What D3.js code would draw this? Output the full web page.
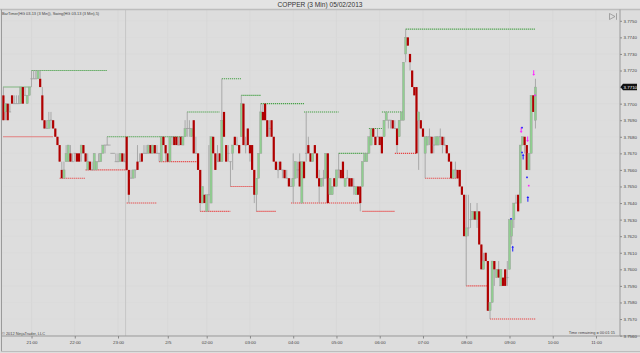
<!DOCTYPE html>
<html>
<head>
<meta charset="utf-8" />
<title>COPPER (3 Min) 05/02/2013</title>
<script src="https://cdnjs.cloudflare.com/ajax/libs/d3/7.8.5/d3.min.js"></script>
<style>
  body { margin: 0; background: #dddddd; }
  svg { display: block; font-family: Arial, "Liberation Sans", sans-serif; }
</style>
</head>
<body>
<svg id="chart" width="640" height="353"></svg>
<script>
// prices are stored in ticks of 0.0005 above 3.7560
const BASE = 3.7560, TICK = 0.0005
const toPrice = t => BASE + t * TICK

const openT = [
  29,27,28,27,29,28,28,28,28,30, 29,28,29,31,31,31,31,31,29,26,
  25,25,26,26,25,24,23,20,19,21, 21,22,21,22,22,22,22,23,22,20,
  21,20,20,20,21,21,22,23,23,23, 22,22,21,21,21,22,21,24,20,19,
  19,20,21,21,22,22,22,22,23,22, 23,22,22,21,24,23,22,21,24,24,
  24,23,24,23,24,25,25,24,26,22, 22,20,16,17,15,17,16,24,22,21,
  22,21,27,23,22,21,22,24,23,23, 24,28,23,25,23,23,20,17,19,22,
  27,28,26,25,26,24,21,20,21,20, 20,19,19,18,18,19,20,21,16,21,
  22,23,22,21,23,22,19,18,19,19, 22,17,17,19,18,20,20,21,18,19,
  19,19,18,17,18,18,18,21,21,22, 23,25,24,24,24,24,24,26,26,26,
  26,25,25,24,26,26,34,36,34,32, 30,30,26,26,25,22,23,24,24,23,
  23,23,24,24,23,23,22,21,19,20, 20,20,18,17,12,13,14,14,15,14,
  15,11,8,10,9,3,4,9,7,8, 6,7,8,7,8,12,14,16,17,16,
  23,24,23,20,22,29,26
]
const highT = [
  30,28,28,28,29,29,29,29,30,30, 30,29,30,32,32,32,32,32,30,26,
  26,27,27,26,25,24,23,21,21,23, 23,23,22,22,22,22,23,23,22,22,
  21,21,22,21,22,22,23,23,24,23, 22,22,22,22,22,22,22,24,20,20,
  20,20,23,22,22,23,23,23,23,23, 23,23,22,24,24,23,22,24,24,24,
  24,24,24,24,26,27,26,25,26,24, 22,20,18,17,17,23,24,24,22,23,
  22,31,27,23,23,21,23,24,24,23, 29,28,24,25,23,23,20,19,22,28,
  28,28,26,26,26,24,21,21,21,20, 20,20,19,19,22,21,21,22,21,21,
  27,24,22,22,23,22,20,19,20,22, 22,19,18,19,20,22,20,21,19,20,
  19,19,19,18,18,18,21,22,22,24, 25,25,24,25,24,24,26,27,26,26,
  26,26,25,26,27,33,37,36,34,32, 30,30,27,26,25,24,24,25,24,24,
  24,24,25,24,24,23,22,21,20,21, 20,20,18,17,17,17,16,15,15,16,
  15,11,10,10,9,4,9,9,8,9, 8,7,8,9,14,14,16,17,17,23,
  24,24,23,22,29,29,31
]
const lowT = [
  26,26,26,27,28,28,28,28,28,28, 29,28,29,30,31,31,31,30,26,25,
  25,25,25,25,24,23,21,19,19,21, 21,21,21,21,21,21,21,22,21,20,
  20,20,20,20,21,21,22,22,23,23, 22,22,21,21,21,21,21,20,16,19,
  19,19,20,21,21,22,22,22,22,22, 22,22,21,21,23,21,21,21,23,23,
  23,23,23,23,24,24,24,24,22,22, 20,15,16,16,15,15,16,22,20,21,
  21,21,24,21,21,18,20,23,23,22, 24,23,22,23,21,20,16,15,19,22,
  26,26,24,24,24,21,20,19,20,19, 19,19,18,18,16,19,19,18,16,19,
  21,22,21,21,22,19,16,18,18,19, 16,17,17,18,18,19,19,19,18,19,
  18,18,17,17,17,15,18,21,21,22, 23,24,23,24,23,22,24,26,25,25,
  25,25,22,24,26,26,33,35,32,30, 29,22,20,25,24,19,23,23,22,22,
  23,23,23,22,23,22,21,19,19,19, 19,18,17,12,6,12,13,14,14,13,
  11,8,8,9,3,2,4,6,7,7, 6,6,6,6,8,11,13,16,15,16,
  23,22,20,20,22,27,25
]
const closeT = [
  26,28,26,27,28,28,28,28,30,28, 29,29,30,31,31,31,32,30,26,25,
  25,26,26,25,24,23,21,19,20,22, 23,21,21,22,21,21,23,22,21,21,
  20,20,22,21,21,22,23,23,23,23, 22,22,21,21,22,21,21,20,17,19,
  20,20,20,21,21,22,22,23,22,23, 22,22,22,24,23,22,21,24,24,23,
  23,23,23,24,25,25,25,25,22,22, 20,16,18,16,17,17,24,22,20,21,
  21,26,24,21,22,21,23,23,23,22, 28,23,23,23,22,20,17,19,22,27,
  26,26,24,25,24,21,20,20,20,20, 19,19,18,18,19,21,20,18,21,19,
  22,22,21,22,22,19,18,19,19,22, 16,19,18,18,20,20,19,19,19,19,
  18,18,18,18,17,16,21,22,22,24, 25,24,23,24,23,22,26,27,26,26,
  25,25,23,26,27,33,36,35,33,30, 29,22,27,25,24,24,24,24,22,23,
  24,24,24,23,23,22,21,19,20,20, 19,18,17,12,13,13,14,15,14,15,
  11,8,9,9,3,4,9,8,8,7, 8,6,6,7,14,14,16,16,15,23,
  24,23,20,22,29,27,30
]

// swing lines: price, first bar, last bar
const swingHighPrice = [3.7710, 3.7720, 3.7680, 3.7695, 3.7715, 3.7705, 3.7700, 3.7695, 3.7670, 3.7685, 3.7695, 3.7745]
const swingHighFrom  = [0, 13, 48, 85, 101, 110, 119, 139, 155, 169, 175, 186]
const swingHighTo    = [13, 48, 83, 100, 110, 119, 139, 155, 169, 175, 185, 246]
const swingLowPrice  = [3.7680, 3.7655, 3.7660, 3.7640, 3.7665, 3.7635, 3.7650, 3.7635, 3.7640, 3.7635, 3.7670, 3.7655, 3.7590, 3.7570]
const swingLowFrom   = [0, 26, 38, 57, 72, 91, 105, 117, 133, 166, 181, 195, 214, 225]
const swingLowTo     = [23, 38, 57, 71, 90, 105, 116, 126, 165, 181, 191, 211, 224, 246]

// signal arrows and dots near the end
const upArrowBar = [235.5, 240.3, 242.5]
const upArrowPrice = [3.76125, 3.7668, 3.76425]
const downArrowBar = [239.4, 242.4, 245.2]
const downArrowPrice = [3.7684, 3.76785, 3.77185]
const blueDotBar = [234.7, 239.8, 239.8, 242.1]
const blueDotPrice = [3.76305, 3.76855, 3.76705, 3.76555]
const pinkDotBar = [242.9, 245.8]
const pinkDotPrice = [3.76505, 3.7705]

const timeLabels = ['21:00', '22:00', '23:00', '2/5', '02:00', '03:00', '04:00', '05:00', '06:00', '07:00', '08:00', '09:00', '10:00', '11:00']
const timeBars = [13, 33, 53, 76, 94, 114, 134, 154, 174, 194, 214, 234, 254, 274]
const sessionBreakBar = 56.5
const priceTicks = d3.range(3.7560, 3.77505, 0.001)

const svg = d3.select('#chart')
const plotL = 1.5, plotR = 620, plotT = 9.5, plotB = 336

const x = d3.scaleLinear().domain([0, 274]).range([3.4, 596])
const y = d3.scaleLinear().domain([3.7560, 3.7750]).range([335.6, 20.8])

// title strip
svg.append('rect').attr('x', 0).attr('y', 0).attr('width', 640).attr('height', plotT).attr('fill', '#e3e3e3')
svg.append('text').attr('x', 320).attr('y', 7).attr('text-anchor', 'middle')
  .attr('font-size', 6.6).attr('fill', '#333').text('COPPER (3 Min)  05/02/2013')

const clip = svg.append('clipPath').attr('id', 'plot')
clip.append('rect').attr('x', plotL).attr('y', plotT).attr('width', plotR - plotL).attr('height', plotB - plotT)
const plot = svg.append('g').attr('clip-path', 'url(#plot)')

// faint grid
plot.selectAll('.vg').data(timeBars).enter().append('line')
  .attr('x1', d => x(d)).attr('x2', d => x(d)).attr('y1', plotT).attr('y2', plotB)
  .attr('stroke', '#d5d5d5').attr('stroke-width', 0.7)
plot.selectAll('.hg').data(priceTicks).enter().append('line')
  .attr('x1', plotL).attr('x2', plotR).attr('y1', d => y(d)).attr('y2', d => y(d))
  .attr('stroke', '#d8d8d8').attr('stroke-width', 0.5)
plot.append('line').attr('x1', x(sessionBreakBar)).attr('x2', x(sessionBreakBar))
  .attr('y1', plotT).attr('y2', plotB).attr('stroke', '#c6c6c6').attr('stroke-width', 1)

// swing lines
const highs = swingHighPrice.map((p, i) => ({ p, a: swingHighFrom[i], b: swingHighTo[i] }))
const lows = swingLowPrice.map((p, i) => ({ p, a: swingLowFrom[i], b: swingLowTo[i] }))
plot.selectAll('.sh').data(highs).enter().append('line')
  .attr('x1', d => x(d.a)).attr('x2', d => x(d.b)).attr('y1', d => y(d.p)).attr('y2', d => y(d.p))
  .attr('stroke', '#45a045').attr('stroke-width', 1.1).attr('stroke-dasharray', '1.2,0.8')
plot.selectAll('.sl').data(lows).enter().append('line')
  .attr('x1', d => x(d.a)).attr('x2', d => x(d.b)).attr('y1', d => y(d.p)).attr('y2', d => y(d.p))
  .attr('stroke', '#e84444').attr('stroke-width', 1.1).attr('stroke-dasharray', '1.2,0.8')

// candles
const bars = openT.map((o, i) => ({
  i, o: toPrice(o), h: toPrice(highT[i]), l: toPrice(lowT[i]), c: toPrice(closeT[i])
}))
const candle = plot.selectAll('.bar').data(bars).enter().append('g')
candle.append('line')
  .attr('x1', d => x(d.i)).attr('x2', d => x(d.i))
  .attr('y1', d => y(d.h)).attr('y2', d => y(d.l))
  .attr('stroke', '#9c9c9c').attr('stroke-width', 0.8)
candle.filter(d => d.o !== d.c).append('rect')
  .attr('x', d => x(d.i) - 1.1).attr('width', 2.2)
  .attr('y', d => y(Math.max(d.o, d.c)))
  .attr('height', d => Math.abs(y(d.o) - y(d.c)))
  .attr('fill', d => d.c > d.o ? '#90cf90' : '#b00000')
  .attr('stroke', d => d.c > d.o ? '#9a9a9a' : 'none').attr('stroke-width', 0.4)
candle.filter(d => d.o === d.c).append('line')
  .attr('x1', d => x(d.i) - 1.2).attr('x2', d => x(d.i) + 1.2)
  .attr('y1', d => y(d.c)).attr('y2', d => y(d.c))
  .attr('stroke', '#9c9c9c').attr('stroke-width', 0.8)

// signal markers
const upArrow = 'M0,-2.8 L1.4,-1 L0.5,-1 L0.5,2.8 L-0.5,2.8 L-0.5,-1 L-1.4,-1 Z'
const downArrow = 'M0,2.8 L1.4,1 L0.5,1 L0.5,-2.8 L-0.5,-2.8 L-0.5,1 L-1.4,1 Z'
plot.selectAll('.ua').data(upArrowBar).enter().append('path')
  .attr('d', upArrow).attr('fill', '#1a1aff')
  .attr('transform', (d, i) => `translate(${x(d)},${y(upArrowPrice[i])})`)
plot.selectAll('.da').data(downArrowBar).enter().append('path')
  .attr('d', downArrow).attr('fill', '#ff22ff')
  .attr('transform', (d, i) => `translate(${x(d)},${y(downArrowPrice[i])})`)
plot.selectAll('.bd').data(blueDotBar).enter().append('rect')
  .attr('x', d => x(d) - 0.8).attr('y', (d, i) => y(blueDotPrice[i]) - 0.8)
  .attr('width', 1.6).attr('height', 1.6).attr('fill', '#1a1aff')
plot.selectAll('.pd').data(pinkDotBar).enter().append('rect')
  .attr('x', d => x(d) - 0.8).attr('y', (d, i) => y(pinkDotPrice[i]) - 0.8)
  .attr('width', 1.6).attr('height', 1.6).attr('fill', '#ff22ff')

// frame
svg.append('line').attr('x1', 0).attr('x2', 640).attr('y1', plotT).attr('y2', plotT).attr('stroke', '#bdbdbd').attr('stroke-width', 1.5)
svg.append('line').attr('x1', plotL).attr('x2', plotL).attr('y1', plotT).attr('y2', 351.5).attr('stroke', '#9a9a9a')
svg.append('line').attr('x1', plotR).attr('x2', plotR).attr('y1', plotT).attr('y2', plotB).attr('stroke', '#9a9a9a')
svg.append('line').attr('x1', plotL).attr('x2', 640).attr('y1', plotB).attr('y2', plotB).attr('stroke', '#9a9a9a')
svg.append('line').attr('x1', plotL).attr('x2', 640).attr('y1', 351.5).attr('y2', 351.5).attr('stroke', '#bdbdbd')

// axes
const yAxis = svg.append('g').attr('transform', `translate(${plotR},0)`)
  .call(d3.axisRight(y).tickValues(priceTicks).tickFormat(d3.format('.4f')).tickSize(2).tickPadding(1.5))
yAxis.select('.domain').remove()
yAxis.selectAll('line').attr('stroke', '#888')
yAxis.selectAll('text').attr('font-size', 4.4).attr('fill', '#444').attr('font-family', 'Arial, sans-serif')

const xAxis = svg.append('g').attr('transform', `translate(0,${plotB})`)
  .call(d3.axisBottom(x).tickValues(timeBars).tickFormat((d, i) => timeLabels[i]).tickSize(2.5).tickPadding(2))
xAxis.select('.domain').remove()
xAxis.selectAll('line').attr('stroke', '#888')
xAxis.selectAll('text').attr('font-size', 4.4).attr('fill', '#444').attr('font-family', 'Arial, sans-serif')

// last price tag
const last = bars[bars.length - 1].c
const tag = svg.append('g').attr('transform', `translate(${plotR},${y(last)})`)
tag.append('path').attr('d', 'M0.5,0 L3,-3.2 L17,-3.2 L17,3.2 L3,3.2 Z').attr('fill', '#111')
tag.append('text').attr('x', 3.6).attr('y', 1.6).attr('font-size', 4.4).attr('fill', '#fff')
  .text(d3.format('.4f')(last))

// corner texts
svg.append('text').attr('x', 2).attr('y', 15).attr('font-size', 3.9).attr('fill', '#444')
  .text('BarTimer(HG 03-13 (3 Min)), Swing(HG 03-13 (3 Min),5)')
svg.append('text').attr('x', 2).attr('y', 334.5).attr('font-size', 3.9).attr('fill', '#444')
  .text('© 2012 NinjaTrader, LLC')
svg.append('text').attr('x', 615).attr('y', 334).attr('text-anchor', 'end').attr('font-size', 3.9).attr('fill', '#444')
  .text('Time remaining = 00:01:15')

// scroll-to-end button
svg.append('path').attr('d', 'M609.5,13.5 L615,16.5 L609.5,19.5 Z M616.5,13.2 L616.5,19.8')
  .attr('fill', 'none').attr('stroke', '#888').attr('stroke-width', 0.7)
</script>
</body>
</html>
